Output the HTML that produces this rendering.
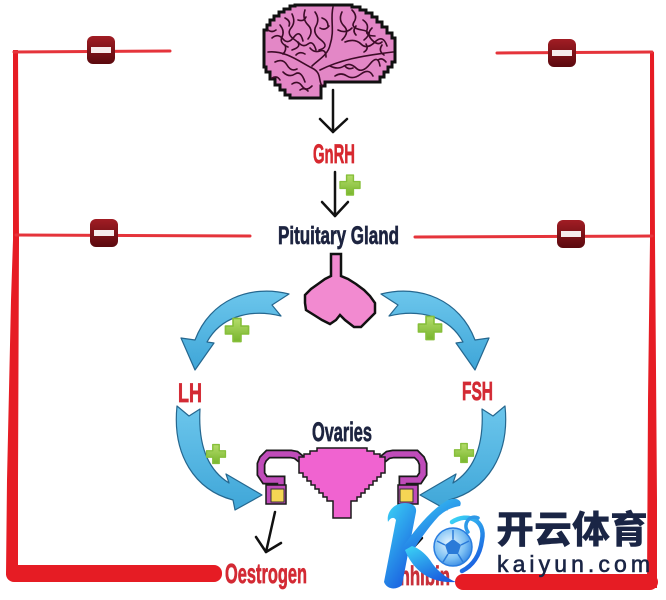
<!DOCTYPE html>
<html><head><meta charset="utf-8"><style>
html,body{margin:0;padding:0;background:#fff;}
svg{display:block;}
.cond{font-family:"Liberation Sans Narrow","Liberation Sans",sans-serif;font-weight:bold;stroke-width:0.7;}
</style></head><body>
<svg width="666" height="600" viewBox="0 0 666 600" xmlns="http://www.w3.org/2000/svg">
<defs>
<linearGradient id="minus" x1="0" y1="0" x2="0" y2="1"><stop offset="0" stop-color="#a11d24"/><stop offset="1" stop-color="#5a090e"/></linearGradient>
<linearGradient id="plus" x1="0" y1="0" x2="0" y2="1"><stop offset="0" stop-color="#b4dc6a"/><stop offset="1" stop-color="#78b52e"/></linearGradient>
<linearGradient id="blue" x1="0" y1="0" x2="0" y2="1"><stop offset="0" stop-color="#6cc6ec"/><stop offset="1" stop-color="#3fa6d8"/></linearGradient>
<linearGradient id="kb" x1="0" y1="0" x2="0.6" y2="1"><stop offset="0" stop-color="#3cd6f6"/><stop offset="1" stop-color="#1a5fe0"/></linearGradient>
<radialGradient id="ball" cx="0.4" cy="0.4" r="0.7"><stop offset="0" stop-color="#e6f5ff"/><stop offset="0.6" stop-color="#7cc0f4"/><stop offset="1" stop-color="#2a7ee0"/></radialGradient>
<g id="minusB"><rect x="-14" y="-14" width="28" height="28" rx="6" fill="url(#minus)"/><rect x="-10" y="-3" width="20" height="6" fill="#f6ecec"/></g>
<path id="plusP" d="M-3.6,-10.5 h7.2 v6.9 h6.9 v7.2 h-6.9 v6.9 h-7.2 v-6.9 h-6.9 v-7.2 h6.9 z" fill="url(#plus)" stroke="#86bf3a" stroke-width="1.5" stroke-linejoin="round"/>
</defs>

<!-- red feedback lines -->
<g fill="#e61c24">
<polygon points="13,50 18,50 19,240 18,480 18,575 6,575 7,480 11,300 13,240"/>
<rect x="6" y="565" width="216" height="17" rx="8"/>
<polygon points="650,52 654,52 655,240 657,500 657,588 647,588 648,400 650,240"/>
<rect x="455" y="574" width="203" height="16" rx="8"/>
</g>
<g stroke="#e5343b" stroke-width="3" fill="none" stroke-linecap="round">
<path d="M14 52 L170 51"/>
<path d="M16 235 L250 236"/>
<path d="M497 53 L652 52"/>
<path d="M415 237 L652 236"/>
</g>
<use href="#minusB" transform="translate(101,50)"/>
<use href="#minusB" transform="translate(104,233)"/>
<use href="#minusB" transform="translate(562,53)"/>
<use href="#minusB" transform="translate(571,234)"/>

<!-- brain -->
<polygon fill="#e387c6" stroke="#111" stroke-width="3" stroke-linejoin="miter" points="295,5 352,5 352,7 360,7 360,10 366,10 366,13 372,13 372,17 377,17 377,22 382,22 382,27 387,27 387,33 392,33 392,38 395,38 395,62 392,62 392,67 388,67 388,72 384,72 384,77 380,77 380,82 325,82 325,86 321,86 321,98 290,98 290,95 285,95 285,90 280,90 280,85 275,85 275,79 270,79 270,72 266,72 266,67 264,67 264,30 267,30 267,25 270,25 270,20 274,20 274,16 279,16 279,12 284,12 284,9 290,9 290,6 295,6"/>
<g fill="none" stroke="#3d0c28" stroke-width="1.6" stroke-linecap="round">
<path d="M268 52 C 285 50 300 62 312 68 C 322 73 318 80 322 86"/>
<path d="M320 70 C 340 60 360 56 393 52"/>
<path d="M333 7 C 330 20 335 30 330 45 C 328 55 318 60 312 66"/>
<path d="M272 38 q6 -5 11 1 t11 -2 t9 4"/>
<path d="M280 25 q5 6 2 12 t6 10"/>
<path d="M292 14 q4 8 -1 14 t4 12 t-3 10"/>
<path d="M305 10 q-3 9 3 15 t0 14"/>
<path d="M315 12 q5 7 1 14 t5 14 t-2 10"/>
<path d="M342 12 q-4 8 2 14 t-2 14"/>
<path d="M352 10 q6 6 2 12 t8 8 t2 10"/>
<path d="M363 20 q6 4 4 10 t8 6"/>
<path d="M372 28 q-6 6 0 12 t10 2"/>
<path d="M345 42 q10 -4 16 2 t14 -2 t12 4"/>
<path d="M338 30 q8 4 14 -2"/>
<path d="M275 62 q8 -4 12 3 t10 4"/>
<path d="M283 72 q6 6 12 2 t10 8"/>
<path d="M292 84 q6 -4 10 2 t10 0"/>
<path d="M330 66 q8 4 14 0 t12 2 t14 -4 t10 2"/>
<path d="M335 76 q6 -4 12 0 t14 -2 t12 2"/>
<path d="M298 42 q5 6 10 2 t8 6"/>
<path d="M272 78 q5 -3 8 2"/>
<path d="M382 45 q-4 6 2 10"/>
<path d="M285 18 q6 3 4 8"/>
<path d="M298 20 q6 2 8 -3"/>
<path d="M320 28 q5 3 9 -2"/>
<path d="M310 48 q4 5 10 3 t6 6"/>
<path d="M296 55 q4 -4 9 -1"/>
<path d="M268 30 q4 3 8 0"/>
<path d="M356 26 q-4 5 0 9"/>
<path d="M366 44 q3 5 -2 8"/>
<path d="M300 90 q4 -3 8 1"/>
<path d="M285 45 q2 5 -2 9"/>
<path d="M322 18 q6 2 6 8"/>
<path d="M378 60 q4 -3 8 2"/>
<path d="M345 66 q3 4 8 2"/>
</g>

<!-- black arrows -->
<g stroke="#111" stroke-width="2.5" fill="none" stroke-linecap="round" stroke-linejoin="round">
<path d="M333 90 L333 132"/><path d="M320 119 L333 132 L347 119"/>
<path d="M335 172 L335 216"/><path d="M322 202 L335 216 L348 202"/>
<path d="M275 512 L266 552"/><path d="M256 537 L266 552 L281 543"/>
<path d="M403 508 L411 550"/><path d="M398 536 L411 550 L422 538"/>
</g>

<!-- text labels -->
<text class="cond" x="313" y="163" font-size="27" fill="#d7282f" stroke="#d7282f" textLength="42" lengthAdjust="spacingAndGlyphs">GnRH</text>
<use href="#plusP" transform="translate(350,185) scale(0.95)"/>
<text class="cond" x="278" y="244" font-size="25" fill="#1d2440" stroke="#1d2440" textLength="121" lengthAdjust="spacingAndGlyphs">Pituitary Gland</text>

<!-- pituitary -->
<polygon fill="#f28ad0" stroke="#111" stroke-width="2.5" stroke-linejoin="miter" points="331,254 341,254 341,276 348,279 356,284 364,290 370,296 375,303 375,313 368,320 361,327 354,327 345,320 340,315 336,320 330,324 322,320 314,315 306,310 305,303 305,295 311,289 318,284 325,279 331,276"/>

<!-- blue arrows -->
<g fill="url(#blue)" stroke="#25678f" stroke-width="1.2" stroke-linejoin="round">
<path d="M289 294 C 250 284 210 300 195 340 L 181 338 L 195 370 L 214 343 L 207 342 C 220 318 248 308 281 316 L 272 305 Z"/>
<path d="M381 294 C 420 284 460 300 475 340 L 489 338 L 475 370 L 456 343 L 463 342 C 450 318 422 308 389 316 L 398 305 Z"/>
<path d="M177 406 L 189 416 L 200 409 C 198 445 208 470 229 483 L 226 474 L 262 495 L 235 510 L 233 500 C 195 490 172 455 177 406 Z"/>
<path d="M505 406 L 493 416 L 482 409 C 484 445 474 470 453 483 L 456 474 L 420 495 L 447 510 L 449 500 C 487 490 510 455 505 406 Z"/>
</g>
<use href="#plusP" transform="translate(237,330) scale(1.1)"/>
<use href="#plusP" transform="translate(430,328) scale(1.1)"/>
<use href="#plusP" transform="translate(216,454) scale(0.9)"/>
<use href="#plusP" transform="translate(464,453) scale(0.9)"/>

<text class="cond" x="178" y="402" font-size="27" fill="#d32a34" stroke="#d32a34" textLength="24" lengthAdjust="spacingAndGlyphs">LH</text>
<text class="cond" x="462" y="400" font-size="26" fill="#d32a34" stroke="#d32a34" textLength="31" lengthAdjust="spacingAndGlyphs">FSH</text>
<text class="cond" x="312" y="441" font-size="27" fill="#1d2440" stroke="#1d2440" textLength="60" lengthAdjust="spacingAndGlyphs">Ovaries</text>

<!-- uterus -->
<g fill="none" stroke-linecap="butt" stroke-linejoin="miter">
<path d="M301 459 L296 455 L291 454 L268 454 L263 459 L261 464 L261 474 L265 480 L281 480 L281 490" stroke="#1a1a1a" stroke-width="9"/>
<path d="M301 459 L296 455 L291 454 L268 454 L263 459 L261 464 L261 474 L265 480 L281 480 L281 490" stroke="#c04cba" stroke-width="5.5"/>
<path d="M383 459 L388 455 L393 454 L416 454 L421 459 L423 464 L423 474 L419 480 L403 480 L403 490" stroke="#1a1a1a" stroke-width="9"/>
<path d="M383 459 L388 455 L393 454 L416 454 L421 459 L423 464 L423 474 L419 480 L403 480 L403 490" stroke="#c04cba" stroke-width="5.5"/>
</g>
<rect x="266" y="485" width="20" height="19" fill="#c04cba" stroke="#1a1a1a" stroke-width="1.5"/>
<rect x="271" y="489" width="13" height="13" fill="#f5d554" stroke="#333" stroke-width="1"/>
<rect x="398" y="485" width="20" height="19" fill="#c04cba" stroke="#1a1a1a" stroke-width="1.5"/>
<rect x="400" y="489" width="13" height="13" fill="#f5d554" stroke="#333" stroke-width="1"/>
<polygon fill="#f063d0" stroke="#1a1a1a" stroke-width="1.5" points="317,448 317,451 310,451 310,454 304,454 304,457 299,457 299,473 303,473 303,477 307,477 307,481 311,481 311,485 315,485 315,489 319,489 319,493 323,493 323,497 327,497 327,501 333,501 333,518 351,518 351,501 357,501 357,497 361,497 361,493 365,493 365,489 369,489 369,485 373,485 373,481 377,481 377,477 381,477 381,473 385,473 385,457 380,457 380,454 374,454 374,451 367,451 367,448"/>

<text class="cond" x="225" y="583" font-size="28" fill="#d32a34" stroke="#d32a34" textLength="82" lengthAdjust="spacingAndGlyphs">Oestrogen</text>
<text class="cond" x="395" y="585" font-size="27" fill="#c8303a" stroke="#c8303a" textLength="55" lengthAdjust="spacingAndGlyphs">Inhibin</text>

<!-- logo -->
<g>
<path d="M388 522 C 386 512 394 503 405 503 C 412 503 417 506 416 512 L 402 585 C 397 590 387 590 384 582 L 396 520 C 394 516 390 518 388 522 Z" fill="url(#kb)"/>
<path d="M402 548 C 415 530 430 510 448 500 C 456 497 463 500 460 506 C 452 507 444 511 438 517 C 428 528 418 542 410 556 Z" fill="url(#kb)"/>
<path d="M405 550 C 412 568 428 584 456 582 C 446 578 436 570 430 560 C 424 552 418 548 412 546 Z" fill="url(#kb)"/>
<path d="M452 522 C 468 512 486 520 482 540 C 480 556 472 566 462 571" fill="none" stroke="url(#kb)" stroke-width="4.5" stroke-linecap="round"/>
<path d="M468 532 C 462 524 470 514 478 518" fill="none" stroke="#2f9ae8" stroke-width="3.5" stroke-linecap="round"/>
<circle cx="453" cy="547" r="19" fill="url(#ball)" stroke="#2a7ee0" stroke-width="1.5"/>
<polygon points="453,539 461,545 458,554 448,554 445,545" fill="#2a7ad8"/>
<g stroke="#2a7ad8" stroke-width="1.5" fill="none">
<path d="M453 539 L453 530"/><path d="M461 545 L469 541"/><path d="M458 554 L463 562"/><path d="M448 554 L443 562"/><path d="M445 545 L437 541"/>
</g>
<text x="496" y="543" font-family="'Noto Sans CJK SC','WenQuanYi Zen Hei',sans-serif" font-weight="900" font-size="38" fill="#1a2545" textLength="152" lengthAdjust="spacingAndGlyphs">开云体育</text>
<text x="497" y="572" font-family="'Liberation Sans',sans-serif" font-size="23" fill="#1a2545" stroke="#1a2545" stroke-width="0.6" textLength="153" lengthAdjust="spacing">kaiyun.com</text>
</g>
</svg>
</body></html>
